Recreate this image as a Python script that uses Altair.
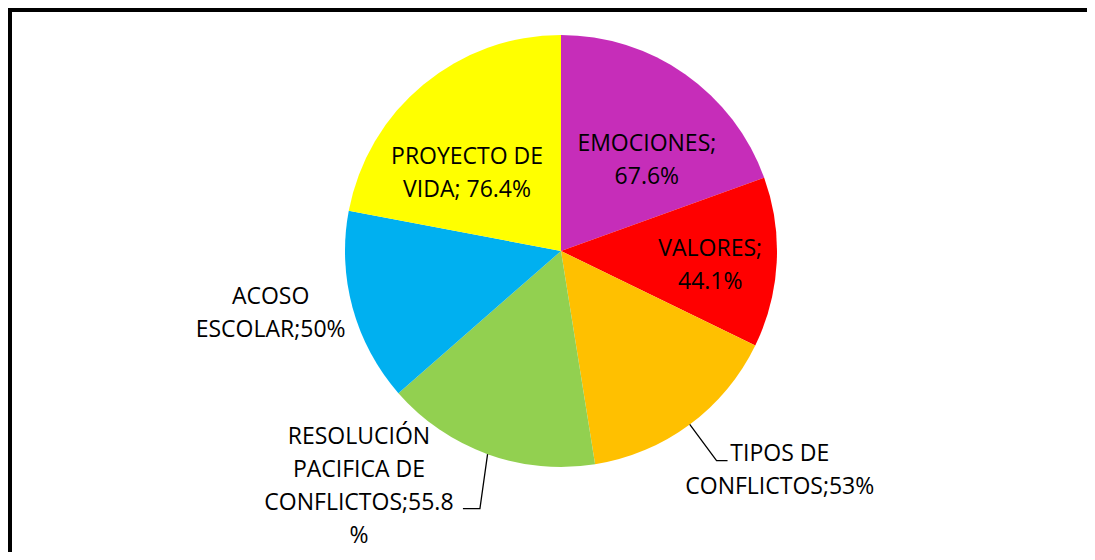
import math
import altair as alt
import pandas as pd

# ---- data ----
categories = ["EMOCIONES", "VALORES", "TIPOS DE CONFLICTOS",
              "RESOLUCIÓN PACIFICA DE CONFLICTOS", "ACOSO ESCOLAR", "PROYECTO DE VIDA"]
values = [67.6, 44.1, 53.0, 55.8, 50.0, 76.4]
label_texts = ["EMOCIONES;\n67.6%", "VALORES;\n44.1%", "TIPOS DE\nCONFLICTOS;53%",
               "RESOLUCIÓN\nPACIFICA DE\nCONFLICTOS;55.8\n%", "ACOSO\nESCOLAR;50%",
               "PROYECTO DE\nVIDA; 76.4%"]
colors = ["#C62DB9", "#FF0000", "#FFC000", "#92D050", "#00B0F0", "#FFFF00"]

# ---- layout (label placement relative to each slice's mid-angle) ----
W, H = 1079, 544
CX, CY = 553, 243          # pie centre inside the view (pixels)
R = 216                    # pie radius
LH = 33                    # text line height
label_r = [125, 150, 310, 310, 297, 122]
label_da = [8.3, 2.7, -8.3, 20.8, 3.1, -10.7]
leader = {2: (261, 0.0, 11), 3: (270, -2.4, -17)}   # idx: (elbow radius, angle nudge, horizontal run)

total = sum(values)
cum = 0.0
mids = []
for v in values:
    mids.append((cum + v / 2) / total * 360.0)
    cum += v

rows = []
for i, (c, v, t) in enumerate(zip(categories, values, label_texts)):
    a = math.radians(mids[i] + label_da[i])
    n_lines = t.count("\n") + 1
    rows.append({"idx": i, "categoria": c, "valor": v, "texto": t,
                 "lx": label_r[i] * math.sin(a),
                 # first line is anchored; shift so the whole block is centred
                 "ly": label_r[i] * math.cos(a) + (n_lines - 1) * LH / 2})
df = pd.DataFrame(rows)

line_rows = []
for i, (er, da, run) in leader.items():
    a0 = math.radians(mids[i])
    a1 = math.radians(mids[i] + da)
    ex, ey = er * math.sin(a1), er * math.cos(a1)
    pts = [(R * math.sin(a0), R * math.cos(a0)), (ex, ey), (ex + run, ey)]
    for k, (px, py) in enumerate(pts):
        line_rows.append({"categoria": categories[i], "k": k, "px": px, "py": py})
ldf = pd.DataFrame(line_rows)

xs = alt.Scale(domain=[-CX, W - CX], range=[0, W], nice=False, zero=False)
ys = alt.Scale(domain=[-(H - CY), CY], range=[H, 0], nice=False, zero=False)
color_scale = alt.Scale(domain=categories, range=colors)

pie = alt.Chart(df).mark_arc(outerRadius=R, stroke=None).encode(
    theta=alt.Theta("valor:Q", stack=True),
    color=alt.Color("categoria:N", scale=color_scale, legend=None),
    order=alt.Order("idx:Q", sort="ascending"),
    x=alt.datum(0, type="quantitative", scale=xs, axis=None),
    y=alt.datum(0, type="quantitative", scale=ys, axis=None),
)

lines = alt.Chart(ldf).mark_line(color="#000000", strokeWidth=1.3).encode(
    x=alt.X("px:Q", scale=xs, axis=None),
    y=alt.Y("py:Q", scale=ys, axis=None),
    detail="categoria:N",
    order="k:Q",
)

labels = alt.Chart(df).mark_text(
    font="Open Sans", fontSize=23, lineHeight=LH, lineBreak="\n",
    color="#000000", align="center", baseline="middle",
).encode(
    x=alt.X("lx:Q", scale=xs, axis=None),
    y=alt.Y("ly:Q", scale=ys, axis=None),
    text="texto:N",
)

top_border = alt.Chart(df).mark_rule(color="#000000", strokeWidth=4).encode(
    x=alt.value(0), x2=alt.value(W), y=alt.value(2))
left_border = alt.Chart(df).mark_rule(color="#000000", strokeWidth=4).encode(
    x=alt.value(2), y=alt.value(0), y2=alt.value(H))

chart = alt.layer(pie, lines, labels, top_border, left_border).properties(
    width=W, height=H, autosize=alt.AutoSizeParams(type="none"), padding=0,
    background="#FFFFFF",
).configure_view(stroke=None)

chart.save("out.html", embed_options={"renderer": "svg", "actions": False})
